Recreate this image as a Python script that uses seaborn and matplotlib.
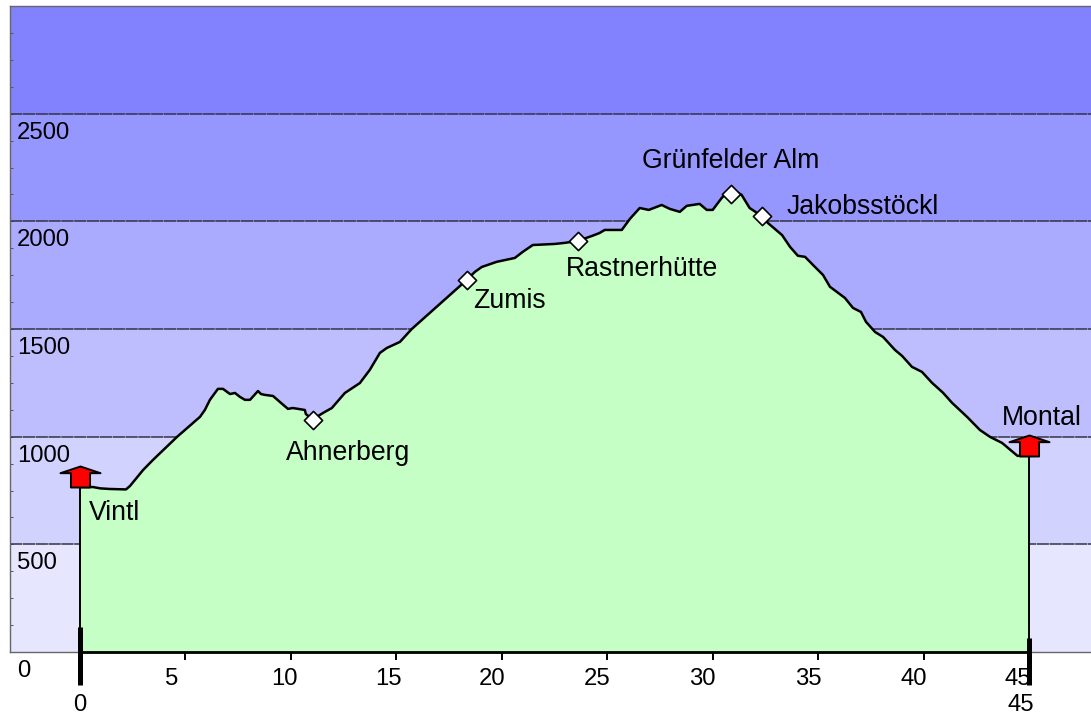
import matplotlib
matplotlib.use("Agg")
import matplotlib.pyplot as plt
import pandas as pd
import seaborn as sns
from matplotlib.path import Path
from matplotlib.transforms import ScaledTranslation

# profile: distance in km, altitude in m
km = [0, 0.62, 0.95, 1.42, 2.18, 2.37, 2.99, 3.46, 4.60, 5.69, 5.92, 6.16, 6.54, 6.78, 7.11,
      7.35, 7.58, 7.82, 8.06, 8.44, 8.58, 8.77, 9.15, 9.48, 9.86, 10.09, 10.66, 10.71, 11.04,
      11.37, 11.61, 11.94, 12.56, 13.27, 13.74, 14.22, 14.55, 15.17, 15.73, 18.34, 18.72, 19.05,
      19.76, 20.62, 20.99, 21.47, 22.51, 22.99, 23.60, 24.27, 24.64, 24.88, 25.69, 26.07, 26.54,
      26.97, 27.58, 27.96, 28.44, 28.77, 29.38, 29.72, 30.00, 30.43, 30.85, 31.37, 31.75, 32.32,
      32.61, 33.29, 33.67, 34.04, 34.38, 34.76, 35.23, 35.56, 35.89, 36.27, 36.65, 37.03, 37.27,
      37.70, 38.08, 38.64, 38.98, 39.45, 39.92, 40.40, 40.92, 41.35, 42.06, 42.67, 43.15, 43.72,
      44.45, 45.0]
altitude = [766, 766, 760, 757, 755, 771, 845, 892, 999, 1092, 1124, 1171, 1222, 1222, 1198,
            1203, 1185, 1171, 1171, 1212, 1198, 1194, 1189, 1161, 1129, 1133, 1124, 1105, 1078,
            1101, 1115, 1133, 1203, 1249, 1310, 1389, 1412, 1440, 1500, 1728, 1765, 1788,
            1812, 1830, 1858, 1890, 1895, 1900, 1909, 1932, 1946, 1960, 1960, 2011, 2062,
            2053, 2076, 2058, 2044, 2072, 2081, 2053, 2053, 2109, 2150, 2123, 2062, 2025,
            1993, 1936, 1881, 1840, 1835, 1797, 1751, 1696, 1672, 1644, 1598, 1579, 1533,
            1486, 1463, 1403, 1375, 1324, 1301, 1250, 1204, 1157, 1092, 1031, 999, 971,
            911, 911]

# places along the way
way_names = ["Ahnerberg", "Zumis", "Rastnerhütte", "Grünfelder Alm", "Jakobsstöckl"]
way_km = [11.04, 18.34, 23.60, 30.85, 32.32]
way_alt = [1078, 1728, 1909, 2127, 2025]
end_names = ["Vintl", "Montal"]
end_km = [0, 45]
end_alt = [766, 911]

band_edges = [0, 500, 1000, 1500, 2000, 2500, 3000]
band_colors = ["#E6E6FF", "#D2D2FF", "#BEBEFF", "#AAAAFF", "#9696FF", "#8282FF"]
y_labels = ["0", "500", "1000", "1500", "2000", "2500"]
x_ticks = [5, 10, 15, 20, 25, 30, 35, 40, 45]

# label offsets from the point, in pixels (x right, y up)
way_offsets = [(-27, -33), (6, -21), (-12, -28), (-89, 33), (25, 9)]
end_offsets = [(9, -26), (-27, 38)]
x_label_shift = [-14, -7, -8, -10, -10, -10, -10, -10, -11]

FONT = 17.2
NAME_FONT = 19.2
PX = 72 / 100

sns.set_theme(style="white")
plt.rcParams["font.family"] = ["Liberation Sans", "DejaVu Sans"]

profile = pd.DataFrame({"km": km, "altitude": altitude})
places = pd.DataFrame({"km": way_km, "altitude": way_alt})
ends = pd.DataFrame({"km": end_km, "altitude": end_alt})

fig = plt.figure(figsize=(10.91, 7.13), dpi=100)
ax = fig.add_axes([10 / 1091, 1 - 652 / 713, 1081 / 1091, 646 / 713])

# altitude bands
for low, high, color in zip(band_edges[:-1], band_edges[1:], band_colors):
    ax.axhspan(low, high, color=color, lw=0, zorder=0)
    ax.axhline(high, color="#333344", lw=1.1, ls=(0, (8, 0.4)), zorder=1)

ax.fill_between(km, altitude, 0, color="#C6FFC6", lw=0, zorder=2)
sns.lineplot(data=profile, x="km", y="altitude", color="black", lw=1.8, sort=False,
             estimator=None, ax=ax, zorder=3)

# start and end uprights
ax.plot([0, 0], [0, end_alt[0]], color="black", lw=1.4, zorder=3)
ax.plot([45, 45], [0, end_alt[1]], color="black", lw=1.4, zorder=3)
ax.plot([0, 45], [0, 0], color="black", lw=2.0, zorder=3, clip_on=False)
ax.plot([0, 0], [116, -153], color="black", lw=3.6, zorder=5, clip_on=False, solid_capstyle="butt")
ax.plot([45, 45], [65, -153], color="black", lw=3.6, zorder=5, clip_on=False, solid_capstyle="butt")

# arrow shaped markers at both ends, origin at the foot of the body
arrow = Path([(-10, 0), (10, 0), (10, 15), (21, 15), (0, 22), (-21, 15), (-10, 15), (-10, 0)], closed=True)
sns.scatterplot(data=ends, x="km", y="altitude", marker=arrow, s=(42 * PX) ** 2, color="#FF0000",
                edgecolor="black", linewidth=1.4, ax=ax, zorder=4, clip_on=False)
sns.scatterplot(data=places, x="km", y="altitude", marker="D", s=86, color="white",
                edgecolor="black", linewidth=1.2, ax=ax, zorder=4)

for name, x, y, off in zip(way_names + end_names, way_km + end_km, way_alt + end_alt, way_offsets + end_offsets):
    ax.annotate(name, xy=(x, y), xytext=(off[0] * PX, off[1] * PX), textcoords="offset points",
                ha="left", va="center", fontsize=NAME_FONT, color="black", zorder=6)

# y labels sit under their band line
for value, label in zip(band_edges[:-1], y_labels):
    ax.annotate(label, xy=(0, value), xycoords=ax.get_yaxis_transform(), xytext=(7 * PX, -19 * PX),
                textcoords="offset points", ha="left", va="center", fontsize=FONT, color="black")

# second row of km labels under the thick bars
ax.annotate("0", xy=(0, 0), xycoords=ax.get_xaxis_transform(), xytext=(0, -53 * PX),
            textcoords="offset points", ha="center", va="center", fontsize=FONT, color="black")
ax.annotate("45", xy=(45, 0), xycoords=ax.get_xaxis_transform(), xytext=(-8 * PX, -53 * PX),
            textcoords="offset points", ha="center", va="center", fontsize=FONT, color="black")

ax.set_xlim(-70 / 21.09, 1011 / 21.09)
ax.set_ylim(0, 3000)
ax.set_xlabel("")
ax.set_ylabel("")
ax.set_xticks(x_ticks)
ax.set_xticklabels([str(t) for t in x_ticks], fontsize=FONT, color="black")
ax.set_yticks(band_edges)
ax.set_yticklabels([])
ax.set_yticks(range(0, 3000, 125), minor=True)
ax.tick_params(axis="x", length=8 * PX, width=1.4, color="black", pad=8 * PX, bottom=True)
ax.tick_params(axis="y", which="both", length=2, width=0.7, color="#555555", direction="in", left=True)

for tick_label, shift in zip(ax.get_xticklabels(), x_label_shift):
    tick_label.set_transform(tick_label.get_transform() + ScaledTranslation(shift / 100, 0, fig.dpi_scale_trans))

for side in ["top", "left", "bottom"]:
    ax.spines[side].set_color("#666666")
    ax.spines[side].set_linewidth(1.0)
ax.spines["right"].set_visible(False)

fig.savefig("out.png", dpi=100)
